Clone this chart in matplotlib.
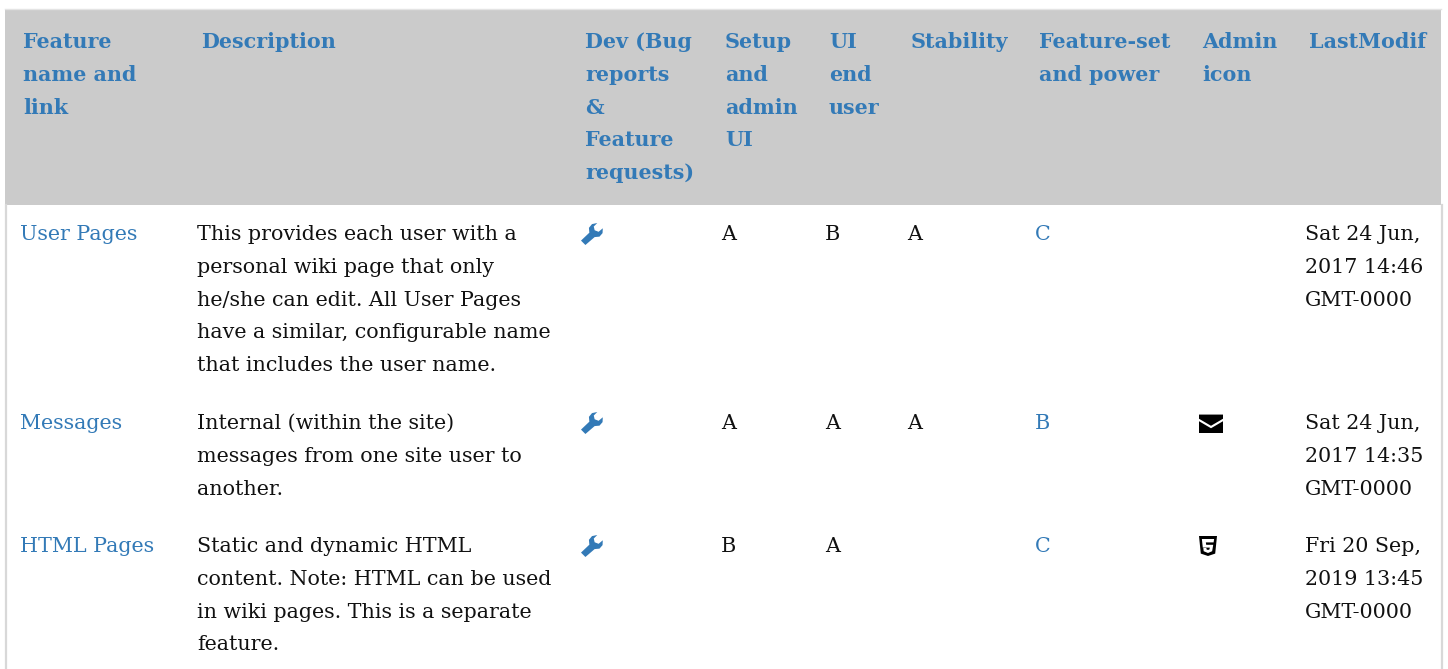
#!/usr/bin/env python3

import matplotlib.pyplot as plt
from matplotlib.patches import PathPatch, Rectangle
from matplotlib.path import Path

headers = [
    ["Feature", "name and", "link"],
    ["Description"],
    ["Dev (Bug", "reports", "&", "Feature", "requests)"],
    ["Setup", "and", "admin", "UI"],
    ["UI", "end", "user"],
    ["Stability"],
    ["Feature-set", "and power"],
    ["Admin", "icon"],
    ["LastModif"],
]

features = ["User Pages", "Messages", "HTML Pages"]
descriptions = [
    ["This provides each user with a", "personal wiki page that only",
     "he/she can edit. All User Pages", "have a similar, configurable name",
     "that includes the user name."],
    ["Internal (within the site)", "messages from one site user to", "another."],
    ["Static and dynamic HTML", "content. Note: HTML can be used",
     "in wiki pages. This is a separate", "feature."],
]
setup_grades = ["A", "A", "B"]
ui_grades = ["B", "A", "A"]
stability_grades = ["A", "A", ""]
power_grades = ["C", "B", "C"]
admin_icons = [None, "mail", "html5"]
last_modif = [
    ["Sat 24 Jun,", "2017 14:46", "GMT-0000"],
    ["Sat 24 Jun,", "2017 14:35", "GMT-0000"],
    ["Fri 20 Sep,", "2019 13:45", "GMT-0000"],
]

# layout in pixels, the figure is one big table
W, H = 1448, 669
head_x = [23, 201, 585, 725, 829, 911, 1039, 1202, 1309]
col_x = [20, 197, 581, 721, 825, 907, 1035, 1198, 1305]
head_base = 48
row_base = [240, 429, 552]
line_h = 32.8
fs = 14.85

BLUE = "#337ab7"
DARK = "#111111"
GREY = "#cbcbcb"

WRENCH = [(0.0, 0.80), (0.38, 0.44), (0.36, 0.22), (0.50, 0.05), (0.74, 0.0),
          (0.58, 0.16), (0.62, 0.33), (0.80, 0.40), (0.99, 0.24), (0.98, 0.46),
          (0.84, 0.62), (0.62, 0.64), (0.2, 1.0), (0.0, 0.80)]
MAIL_TOP = [(0.0, 0.03), (1.0, 0.03), (1.0, 0.25), (0.5, 0.62), (0.0, 0.25), (0.0, 0.03)]
MAIL_BOT = [(0.0, 0.38), (0.5, 0.75), (1.0, 0.38), (1.0, 1.0), (0.0, 1.0), (0.0, 0.38)]
SHIELD = [(0.0, 0.0), (1.0, 0.0), (0.9, 0.88), (0.5, 1.0), (0.1, 0.88), (0.0, 0.0)]
FIVE = [(0.16, 0.15), (0.84, 0.15), (0.81, 0.32), (0.38, 0.32), (0.40, 0.44), (0.79, 0.44),
        (0.73, 0.76), (0.5, 0.85), (0.26, 0.76), (0.24, 0.6), (0.41, 0.6), (0.42, 0.67),
        (0.5, 0.7), (0.58, 0.67), (0.6, 0.58), (0.21, 0.58), (0.16, 0.15)]


def draw_icon(ax, polys, x, y, w, h, color):
    verts, codes = [], []
    for poly in polys:
        verts += [(x + px * w, y + py * h) for px, py in poly]
        codes += [Path.MOVETO] + [Path.LINETO] * (len(poly) - 2) + [Path.CLOSEPOLY]
    ax.add_patch(PathPatch(Path(verts, codes), fc=color, ec="none", lw=0))


def put(ax, x, y, lines, color=DARK, weight="normal"):
    for i, line in enumerate(lines):
        ax.text(x, y + i * line_h, line, color=color, fontsize=fs, fontweight=weight,
                family="DejaVu Serif", va="baseline", ha="left")


fig = plt.figure(figsize=(W / 100, H / 100), dpi=100, facecolor="white")
ax = fig.add_axes([0, 0, 1, 1])
ax.set_xlim(0, W)
ax.set_ylim(H, 0)
ax.axis("off")

ax.add_patch(Rectangle((5, 9), 1436, 196, fc=GREY, ec="none"))
ax.plot([5, 1441], [8.5, 8.5], color="#e4e4e4", lw=1)
ax.plot([6, 6], [205, H], color="#d8d8d8", lw=1.6)
ax.plot([1441.5, 1441.5], [205, H], color="#d8d8d8", lw=1.6)

for x, lines in zip(head_x, headers):
    put(ax, x, head_base, lines, color=BLUE, weight="bold")

for i, y in enumerate(row_base):
    put(ax, col_x[0], y, [features[i]], color=BLUE)
    put(ax, col_x[1], y, descriptions[i])
    draw_icon(ax, [WRENCH], col_x[2], y - 17, 22, 22, BLUE)
    put(ax, col_x[3], y, [setup_grades[i]])
    put(ax, col_x[4], y, [ui_grades[i]])
    put(ax, col_x[5], y, [stability_grades[i]])
    put(ax, col_x[6], y, [power_grades[i]], color=BLUE)
    if admin_icons[i] == "mail":
        draw_icon(ax, [MAIL_TOP, MAIL_BOT], col_x[7] + 1, y - 15, 24, 19, "black")
    elif admin_icons[i] == "html5":
        draw_icon(ax, [SHIELD], col_x[7] + 1, y - 16, 18, 20, "black")
        draw_icon(ax, [FIVE], col_x[7] + 1, y - 16, 18, 20, "white")
    put(ax, col_x[8], y, last_modif[i])

fig.savefig("out.png", dpi=100, facecolor="white")
